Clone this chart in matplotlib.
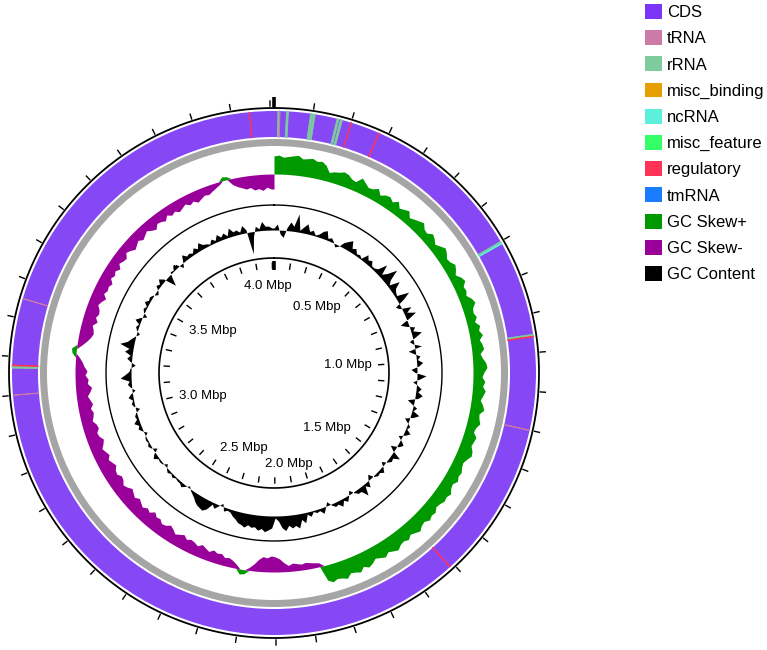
import numpy as np
import matplotlib
matplotlib.use("Agg")
import matplotlib.pyplot as plt
from matplotlib.patches import Patch

plt.rcParams["font.family"] = ["Liberation Sans", "DejaVu Sans"]

genome_mbp = 4.21
window_mbp = 0.015
tick_step_mbp = 0.1

legend_labels = ["CDS", "tRNA", "rRNA", "misc_binding", "ncRNA", "misc_feature",
                 "regulatory", "tmRNA", "GC Skew+", "GC Skew-", "GC Content"]
legend_colors = ["#7a35f7", "#cc7aa6", "#7dcc9c", "#e69f00", "#5cf0dc", "#33ff66",
                 "#ff3355", "#1a7cff", "#009900", "#990099", "#000000"]

# non-CDS features visible in the outer ring
feature_types = ["rRNA", "rRNA", "rRNA", "rRNA", "rRNA", "rRNA", "rRNA", "ncRNA",
                 "rRNA", "regulatory", "rRNA", "regulatory", "regulatory",
                 "regulatory", "regulatory", "regulatory", "tRNA", "tRNA", "tRNA",
                 "tRNA"]
feature_start_mbp = [0.010, 0.032, 0.094, 0.101, 0.163, 0.172, 0.700, 0.705,
                     0.953, 0.958, 3.170, 3.176, 0.200, 0.276, 4.146, 1.610,
                     0.014, 3.100, 3.350, 1.200]
feature_len_kb = [5, 5, 5, 5, 5, 5, 5, 2, 5, 2, 5, 2, 1.5, 1.5, 1.5, 1.5, 1, 1, 1, 1]

# GC skew per 15 kb window
gc_skew = [18, 19, 17, 18, 19, 20, 17, 18, 19, 17, 18, 15,
           9, 11, 12, 14, 13, 10, 9, 15,
           12, 9, 10, 13, 8, 11, 12, 9, 13, 8, 10, 12, 7, 9, 11, 13, 9, 8, 12, 10,
           7, 10, 13, 11, 8, 9, 12, 10, 7, 11, 13, 9, 10, 8, 12, 14, 10, 9, 11, 8,
           12, 10, 13, 9, 11, 12, 8, 10, 13, 14, 11, 9, 12, 10, 13, 11, 9, 12, 14, 10,
           11, 13, 10, 9, 13, 12, 11, 14, 15, 12, 10, 11, 13, 12, 14, 11, 12, 15, 13, 14,
           12, 11, 14, 13, 15, 12, 13, 16, 14, 12, 15, 13, 14, 17, 15, 13, 16, 14, 12, 15,
           17, 14, 18, 16, 15, 19, 17, 16, 18, 15,
           -4, -5, -6, -7, -6, -7, -8, -6,
           -9, -13, -15, -16, -14, -15, -12, -7,
           -3, 4, 5,
           -4, -7, -9, -8, -11, -10, -12, -9, -11, -13, -10, -12,
           -13, -11, -14, -12, -10, -13, -15, -12, -11, -14,
           -13, -16, -12, -14, -11, -13, -15, -12, -14, -16,
           -13, -11, -14, -15, -12, -13, -16, -14, -12, -15,
           -13, -11, -14, -16, -13, -12, -15, -14, -11, -13,
           -14, -12, -15, -13, -11, -14, -16, -12, -13, -10, -12, -9, -7, -4,
           4, 5,
           -5, -9, -12, -14, -13, -11, -15, -12, -14, -13, -10, -12, -15, -11, -13,
           -12, -14, -10,
           -12, -10, -13, -9, -11, -12, -8, -10, -13, -11,
           -9, -12, -10, -8, -11, -13, -9, -10, -12, -8,
           -11, -9, -12, -10, -8, -11, -9, -12, -10, -8,
           -9, -7, -5, -3,
           4, 3,
           -6, -9, -11, -13, -12, -15, -14, -16, -13, -15]

# GC content deviation per 15 kb window
gc_content = [2, 6, -4, -7, 3, 9, 5, 18, 2, 6, 10, 3, 5, 1,
              3, 7, 9, 2, 4, 1, -3, -1, 5, 8, 11, 4, 6, 2, 3, 1, 8, 4, 6, 2,
              2, 4, 13, 3, 8, 17, 6, 2, 12, 5, 3, 2, 14, 6, -5, -2, 9,
              3, 11, 2, -8, -3, 5, 2, 10, 3, -4, -1, 7, -7, -2, 4, 1,
              6, 2, -6, -2, 9, 3, -4, 1, 5, 2, 7, 3, -7, -2, 4, 1, 8, 3, -5, -1,
              3, 1, 6, 2, -4, 1, 5, 2, -6, -1, 9, 3, 4, 1,
              -4, 1, 5, 2, 3, 1, -5, -1, 6, 2, 11, 4, 4, 1, -4, 1, 5, 2, 7, 3,
              4, 1, -4, 1, 6, 2, 3, 1, 5, 2,
              10, 6, 14, 11, 13, 10, 15, 12, 5, 2, 12, 14, 16, 13, 15, 12, 13, 11,
              14, 12, 11, 8, 6, 3,
              2, 4, -3, 1, 5, 2, 9, 12, 11, 10, 8, 5,
              3, 1, -2, 1, 4, 2, 2, 1, 3, 1,
              3, 1, -3, 1, 2, 1, 5, 2, -4, 1, 3, 1, 2, 1, -3, 1, 4, 2, 6, 2, 3, 1, -4, 1,
              3, 1, 5, 2, -3, 1, 4, 2, 11, 6, 2, 1, -4, 1, 5, 2, 8, 4, 14, 7, 4, 1,
              -3, 1, 3, 1, 6, 2, -4, 1, 3, 1, 5, 2,
              3, 1, -3, -1, 4, 2, 6, 2, -11, -4, 2, 1, 5, 2, -4, 1, 7, 3, 4, 2,
              6, 3, 8, 4, 3, 1, 5, 2, 7, 3,
              6, 2, 9, 4, 5, 2, 8, 3, -22, -5, 5, 2, 9, 4, 4, 2]

tick_labels_mbp = [0.5, 1.0, 1.5, 2.0, 2.5, 3.0, 3.5, 4.0]


def to_theta(mbp):
    return np.asarray(mbp) / genome_mbp * 2 * np.pi


def closed_track(values):
    # close the circle: last window runs up to the genome end
    pos = np.append(np.arange(len(values)) * window_mbp, genome_mbp)
    vals = np.append(values, values[-1]).astype(float)
    return to_theta(pos), vals


color_of = dict(zip(legend_labels, legend_colors))

fig = plt.figure(figsize=(7.67, 6.5), dpi=100)
rmax = 276
ax = fig.add_axes([(274 - rmax) / 767, (650 - 373 - rmax) / 650,
                   2 * rmax / 767, 2 * rmax / 650], projection="polar")
ax.set_theta_zero_location("N")
ax.set_theta_direction(-1)
ax.set_ylim(0, rmax)
ax.axis("off")

full = np.linspace(0, 2 * np.pi, 721)

# outer ring: CDS backdrop plus the other features
ax.bar(0, 26, width=2 * np.pi, bottom=236, align="edge",
       color="#8648f5", linewidth=0)
for ftype, start, length in zip(feature_types, feature_start_mbp, feature_len_kb):
    ax.bar(to_theta(start), 26, width=to_theta(length / 1000), bottom=236,
           align="edge", color=color_of[ftype], edgecolor=color_of[ftype],
           linewidth=0.6)

ax.plot(full, np.full_like(full, 265), color="black", lw=1.3)
ticks = np.arange(0, genome_mbp, tick_step_mbp)
for t in ticks:
    th = to_theta(t)
    if t == 0:
        ax.plot([th, th], [266, 276], color="black", lw=2.6, solid_capstyle="butt",
                clip_on=False)
    else:
        ax.plot([th, th], [267, 272], color="black", lw=1.0, clip_on=False)

# backbone
ax.bar(0, 7, width=2 * np.pi, bottom=227, align="edge", color="#a5a5a5",
       linewidth=0)

# GC skew
th, skew = closed_track(gc_skew)
skew_base = 199
ax.fill_between(th, skew_base, skew_base + np.clip(skew, 0, None),
                color=color_of["GC Skew+"], linewidth=0)
ax.fill_between(th, skew_base, skew_base + np.clip(skew, None, 0),
                color=color_of["GC Skew-"], linewidth=0)

ax.plot(full, np.full_like(full, 168), color="black", lw=1.0)

# GC content
th, gc = closed_track(gc_content)
gc_base = 143
ax.fill_between(th, gc_base, gc_base + gc, color="black", linewidth=0)

# inner ruler
ax.plot(full, np.full_like(full, 115), color="black", lw=1.2)
for t in ticks:
    th_t = to_theta(t)
    if t == 0:
        ax.plot([th_t, th_t], [112, 103], color="black", lw=2.6, solid_capstyle="butt")
    else:
        ax.plot([th_t, th_t], [110, 105], color="black", lw=1.0)

for t in tick_labels_mbp:
    a = to_theta(t)
    s, c = np.sin(a), np.cos(a)
    ha = "right" if s > 0.3 else ("left" if s < -0.3 else "center")
    va = "top" if c > 0.3 else ("bottom" if c < -0.3 else "center")
    ax.text(a, 98, f"{t:.1f} Mbp", ha=ha, va=va, fontsize=9.5)

handles = [Patch(facecolor=c, edgecolor="none") for c in legend_colors]
fig.legend(handles, legend_labels, loc="upper left", bbox_to_anchor=(645 / 767, 1 - 4 / 650),
           frameon=False, fontsize=12, handlelength=1.0, handleheight=1.0,
           handletextpad=0.3, labelspacing=0.6, borderpad=0, borderaxespad=0)

fig.savefig("out.png", dpi=100)
